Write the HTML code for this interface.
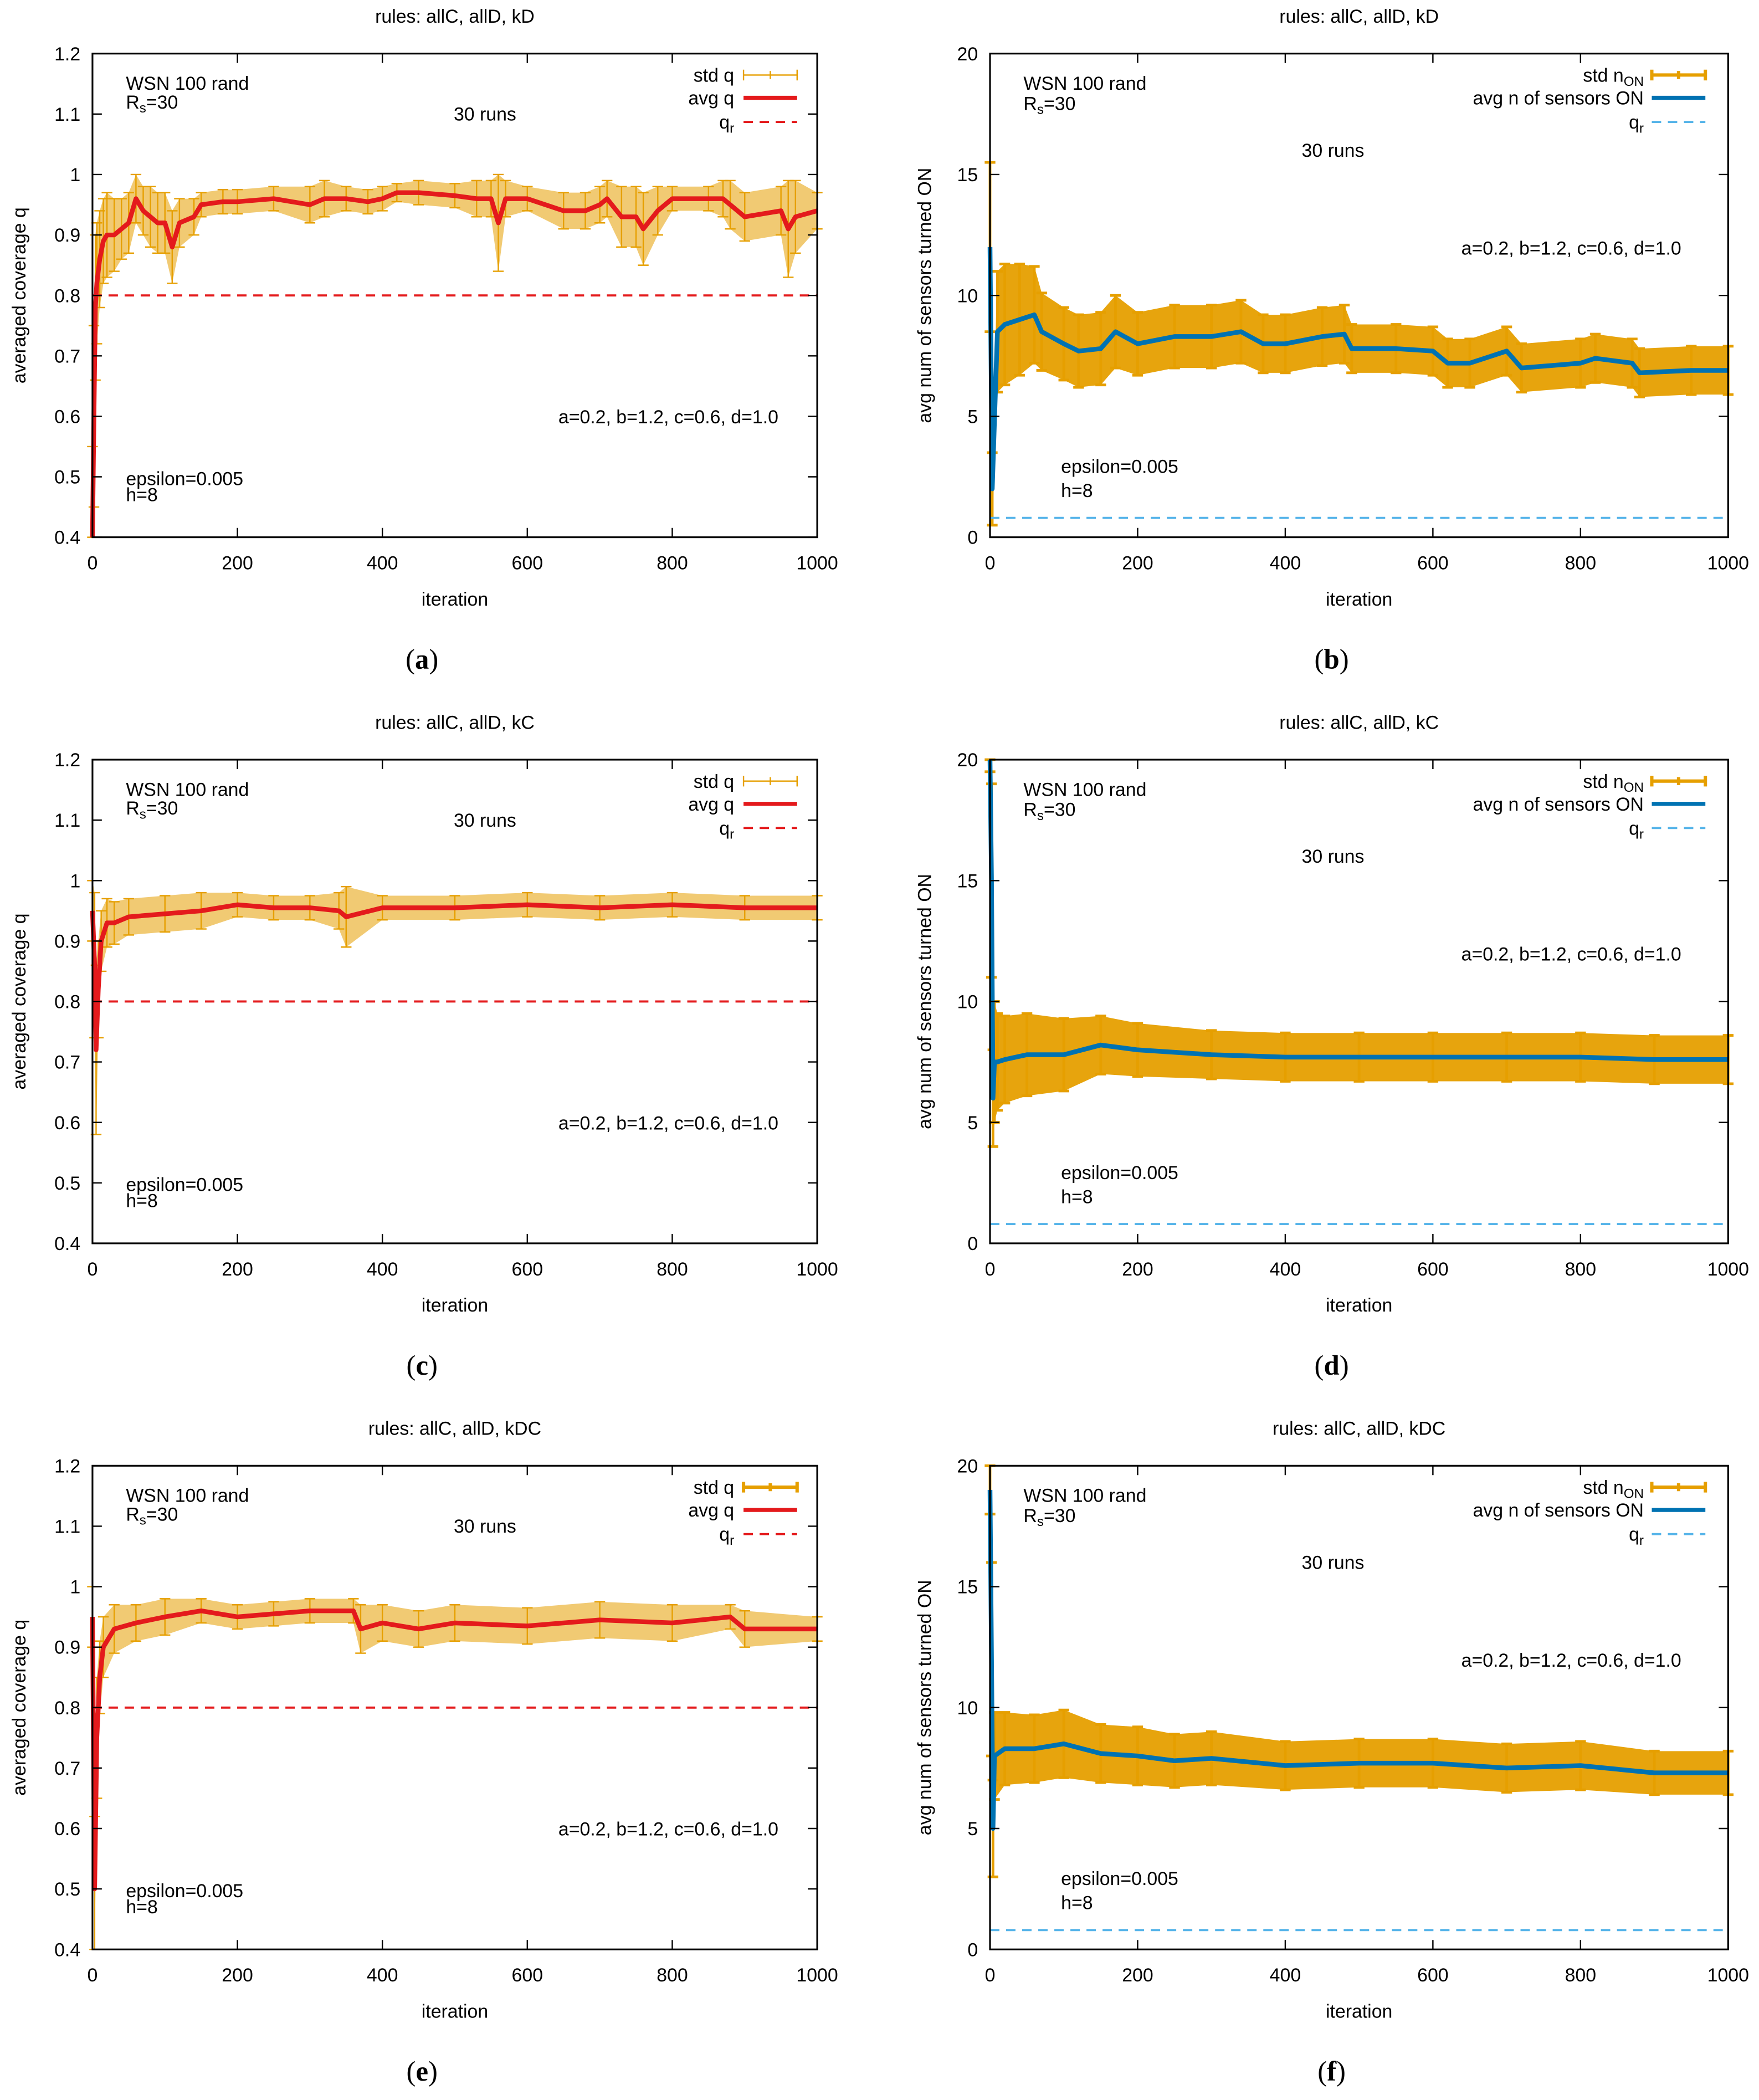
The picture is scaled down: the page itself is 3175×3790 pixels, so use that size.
<!DOCTYPE html>
<html><head><meta charset="utf-8"><title>WSN coverage charts</title>
<style>
html,body{margin:0;padding:0;background:#fff;}
svg{display:block;}
text{font-family:"Liberation Sans",sans-serif;fill:#000;}
.cap{font-family:"Liberation Serif",serif;}
</style></head>
<body>
<svg id="fig" xmlns="http://www.w3.org/2000/svg" width="3175" height="3790" viewBox="0 0 1313 1567.4"></svg>
<script>
// ---- data (a) rules allC, allD, kD : coverage ----
const xA = [0,2,4,6,10,15,20,30,40,50,60,70,80,90,100,110,120,140,150,180,200,250,300,320,350,380,400,420,450,500,530,550,560,570,600,650,680,700,710,730,750,760,780,800,850,870,880,900,950,960,970,1000];
const meanA = [0.40,0.60,0.78,0.82,0.86,0.89,0.90,0.90,0.91,0.92,0.96,0.94,0.93,0.92,0.92,0.88,0.92,0.93,0.95,0.955,0.955,0.96,0.95,0.96,0.96,0.955,0.96,0.97,0.97,0.965,0.96,0.96,0.92,0.96,0.96,0.94,0.94,0.95,0.96,0.93,0.93,0.91,0.94,0.96,0.96,0.96,0.95,0.93,0.94,0.91,0.93,0.94];
const stdA = [0.15,0.15,0.12,0.10,0.08,0.07,0.07,0.06,0.05,0.05,0.04,0.04,0.05,0.05,0.05,0.06,0.04,0.03,0.02,0.02,0.02,0.02,0.03,0.03,0.02,0.02,0.02,0.015,0.02,0.02,0.03,0.03,0.08,0.03,0.02,0.03,0.03,0.03,0.03,0.05,0.05,0.06,0.04,0.02,0.02,0.03,0.04,0.04,0.04,0.08,0.06,0.03];
// ---- data (b) : sensors ON ----
const xB = [0,3,10,20,40,60,70,100,120,150,170,200,250,300,340,370,400,450,480,490,550,600,620,650,700,720,800,820,870,880,950,1000];
const meanB = [12,2,8.5,8.8,9.0,9.2,8.5,8.0,7.7,7.8,8.5,8.0,8.3,8.3,8.5,8.0,8.0,8.3,8.4,7.8,7.8,7.7,7.2,7.2,7.7,7.0,7.2,7.4,7.2,6.8,6.9,6.9];
const stdB = [3.5,1.5,2.5,2.5,2.3,2.0,1.6,1.5,1.5,1.5,1.5,1.3,1.3,1.3,1.3,1.2,1.2,1.2,1.2,1.0,1.0,1.0,1.0,1.0,1.0,1.0,1.0,1.0,1.0,1.0,1.0,1.0];
// ---- data (c) rules allC, allD, kC : coverage ----
const xC = [0,3,5,8,12,20,30,50,100,150,200,250,300,340,350,400,500,600,700,800,900,1000];
const meanC = [0.95,0.86,0.72,0.82,0.90,0.93,0.93,0.94,0.945,0.95,0.96,0.955,0.955,0.95,0.94,0.955,0.955,0.96,0.955,0.96,0.955,0.955];
const stdC = [0.05,0.12,0.14,0.08,0.05,0.04,0.035,0.03,0.03,0.03,0.02,0.02,0.02,0.03,0.05,0.02,0.02,0.02,0.02,0.02,0.02,0.02];
// ---- data (d) : sensors ON ----
const xD = [0,2,4,6,10,20,50,100,150,200,300,400,500,600,700,800,900,1000];
const meanD = [20,15,6,7.5,7.5,7.6,7.8,7.8,8.2,8.0,7.8,7.7,7.7,7.7,7.7,7.7,7.6,7.6];
const stdD = [0.5,4,2,2.5,2.0,1.8,1.7,1.5,1.2,1.1,1.0,1.0,1.0,1.0,1.0,1.0,1.0,1.0];
// ---- data (e) rules allC, allD, kDC : coverage ----
const xE = [0,3,6,10,15,30,60,100,150,200,250,300,360,370,400,450,500,600,700,800,880,900,1000];
const meanE = [0.95,0.50,0.75,0.85,0.90,0.93,0.94,0.95,0.96,0.95,0.955,0.96,0.96,0.93,0.94,0.93,0.94,0.935,0.945,0.94,0.95,0.93,0.93];
const stdE = [0.05,0.12,0.10,0.06,0.05,0.04,0.03,0.03,0.02,0.02,0.02,0.02,0.02,0.04,0.03,0.03,0.03,0.03,0.03,0.03,0.02,0.03,0.02];
// ---- data (f) : sensors ON ----
const xF = [0,2,4,6,20,60,100,150,200,250,300,400,500,600,700,800,900,1000];
const meanF = [19,12,5,8,8.3,8.3,8.5,8.1,8.0,7.8,7.9,7.6,7.7,7.7,7.5,7.6,7.3,7.3];
const stdF = [1,4,2,1.8,1.5,1.4,1.4,1.2,1.2,1.1,1.1,1.0,1.0,1.0,1.0,1.0,0.9,0.9];

const xTicks = [0,200,400,600,800,1000];
const qTicks = [0.4,0.5,0.6,0.7,0.8,0.9,1,1.1,1.2];
const qTickLabels = ["0.4","0.5","0.6","0.7","0.8","0.9","1","1.1","1.2"];
const nTicks = [0,5,10,15,20];
const qRef = 0.8;
const nRef = 0.8;

const NS = "http://www.w3.org/2000/svg";
const fig = document.getElementById('fig');
function mk(tag, attrs, parent){
  const e = document.createElementNS(NS, tag);
  for (const k in attrs) e.setAttribute(k, attrs[k]);
  (parent||fig).appendChild(e);
  return e;
}
function txt(s, x, y, size, anchor, parent){
  const t = mk('text', {x:x, y:y, 'font-size':size, 'text-anchor':anchor||'start'}, parent);
  t.textContent = s;
  return t;
}

function panel(o){
  const g = mk('g', {});
  
  
  const L=o.L, R=o.R, T=o.T, B=o.B;
  const sx = v => L + (v-0)/(1000-0)*(R-L);
  const sy = v => B - (v-o.ymin)/(o.ymax-o.ymin)*(B-T);
  // title
  const tt = txt(o.title, (L+R)/2, T-23, 14, 'middle', g);
  
  
  // std band
  const isQ = o.kind==='q';
  const orange = '#E69F00';
  let up='', dn='';
  for (let i=0;i<o.xs.length;i++){ up += sx(o.xs[i])+','+sy(Math.min(o.ymax,o.m[i]+o.s[i]))+' '; }
  for (let i=o.xs.length-1;i>=0;i--){ dn += sx(o.xs[i])+','+sy(Math.max(o.ymin,o.m[i]-o.s[i]))+' '; }
  const band = mk('polygon', {points:up+dn, fill:orange, 'fill-opacity': isQ?0.55:0.95, stroke:'none'}, g);
  
  
  // error bars
  for (let i=0;i<o.xs.length;i++){
    const x=sx(o.xs[i]);
    const y1=sy(Math.min(o.ymax,o.m[i]+o.s[i])), y2=sy(Math.max(o.ymin,o.m[i]-o.s[i]));
    const eb = mk('path', {d:`M${x},${y1}V${y2}M${x-4},${y1}H${x+4}M${x-4},${y2}H${x+4}`, stroke:orange, 'stroke-width': isQ?1:2, fill:'none'}, g);
    
    
  }
  // reference line
  const ry = sy(o.ref);
  const rl = mk('line', {x1:L, x2:R, y1:ry, y2:ry, stroke: isQ?'#E41A1C':'#56B4E9', 'stroke-width':1.6, 'stroke-dasharray':'7,5'}, g);
  
  
  // mean line
  let pts='';
  for (let i=0;i<o.xs.length;i++) pts += sx(o.xs[i])+','+sy(o.m[i])+' ';
  const ml = mk('polyline', {points:pts, fill:'none', stroke: isQ?'#E41A1C':'#0072B2', 'stroke-width':3.5, 'stroke-linejoin':'round'}, g);
  
  
  // frame
  const fr = mk('rect', {x:L, y:T, width:R-L, height:B-T, fill:'none', stroke:'#000', 'stroke-width':1.3}, g);
  
  
  // x ticks
  xTicks.forEach(v=>{
    const x=sx(v);
    mk('path', {d:`M${x},${B}v-7M${x},${T}v7`, stroke:'#000', 'stroke-width':1}, g);
    const l = txt(String(v), x, B+24, 14, 'middle', g);
    
    
  });
  o.yt.forEach((v,i)=>{
    const y=sy(v);
    mk('path', {d:`M${L},${y}h7M${R},${y}h-7`, stroke:'#000', 'stroke-width':1}, g);
    const l = txt(o.ytl[i], L-9, y+5, 14, 'end', g);
    
    
  });
  const xl = txt('iteration', (L+R)/2, B+51, 14, 'middle', g);
  
  
  const yl = txt(o.ylabel, 0, 0, 14, 'middle', g);
  yl.setAttribute('transform', `translate(${o.ylx},${(T+B)/2}) rotate(-90)`);
  
  
  // annotations
  const a1 = txt('WSN 100 rand', L+25, T+27, 14, 'start', g);
  
  
  const a2 = mk('text', {x:L+25, y:T+(isQ?41:42), 'font-size':14}, g);
  a2.innerHTML = 'R<tspan font-size="10" dy="3">s</tspan><tspan dy="-3">=30</tspan>';
  
  
  const a3 = txt('30 runs', isQ? L+293 : L+256, isQ? T+50 : T+77, 14, 'middle', g);
  
  
  const a4 = txt('a=0.2, b=1.2, c=0.6, d=1.0', isQ? L+512 : L+516, isQ? T+276 : T+150, 14, 'end', g);
  
  
  const a5 = txt('epsilon=0.005', isQ? L+25 : L+53, isQ? T+322 : T+313, 14, 'start', g);
  
  
  const a6 = txt('h=8', isQ? L+25 : L+53, isQ? T+334 : T+331, 14, 'start', g);
  
  
  // legend
  const lx = isQ? R-62 : R-63, ll = isQ? R-55 : R-57, lr = isQ? R-15 : R-17;
  const ys=[T+21,T+38,T+56];
  const lg = mk('g', {}, g);
  
  
  const t1 = mk('text', {x:lx, y:ys[0], 'font-size':14, 'text-anchor':'end'}, lg);
  t1.innerHTML = isQ? 'std q' : 'std n<tspan font-size="10" dy="3">ON</tspan>';
  
  
  mk('path', {d:`M${ll},${ys[0]-5}H${lr}M${ll},${ys[0]-9}v8M${lr},${ys[0]-9}v8M${(ll+lr)/2},${ys[0]-8}v6`, stroke:orange, 'stroke-width': o.thinLegend?1:2.5}, lg);
  const t2 = txt(isQ?'avg q':'avg n of sensors ON', lx, ys[1], 14, 'end', lg);
  
  
  mk('line', {x1:ll, x2:lr, y1:ys[1]-5, y2:ys[1]-5, stroke:isQ?'#E41A1C':'#0072B2', 'stroke-width':3}, lg);
  const t3 = mk('text', {x:lx, y:ys[2], 'font-size':14, 'text-anchor':'end'}, lg);
  t3.innerHTML = 'q<tspan font-size="10" dy="3">r</tspan>';
  
  
  mk('line', {x1:ll, x2:lr, y1:ys[2]-5, y2:ys[2]-5, stroke:isQ?'#E41A1C':'#56B4E9', 'stroke-width':1.6, 'stroke-dasharray':'7,5'}, lg);
  // caption
  const cp = mk('text', {x:o.capx, y:B+98, 'font-size':21, 'text-anchor':'middle', class:'cap'}, g);
  cp.innerHTML = '(<tspan font-weight="bold">'+o.cap+'</tspan>)';
  
  
}

const rows=[0,527,1054];
const titles=['rules: allC, allD, kD','rules: allC, allD, kC','rules: allC, allD, kDC'];
const qData=[[xA,meanA,stdA],[xC,meanC,stdC],[xE,meanE,stdE]];
const nData=[[xB,meanB,stdB],[xD,meanD,stdD],[xF,meanF,stdF]];
const caps=[['a','b'],['c','d'],['e','f']];
for (let r=0;r<3;r++){
  panel({name:'coverage-chart-'+caps[r][0], kind:'q', L:69, R:610, T:40+rows[r], B:401+rows[r], ymin:0.4, ymax:1.2,
    xs:qData[r][0], m:qData[r][1], s:qData[r][2], ref:qRef, yt:qTicks, ytl:qTickLabels,
    ylabel:'averaged coverage q', ylx:19, title:titles[r], cap:caps[r][0], capx:315, thinLegend:r<2});
  panel({name:'sensors-chart-'+caps[r][1], kind:'n', L:739, R:1290, T:40+rows[r], B:401+rows[r], ymin:0, ymax:20,
    xs:nData[r][0], m:nData[r][1], s:nData[r][2], ref:nRef, yt:nTicks, ytl:nTicks.map(String),
    ylabel:'avg num of sensors turned ON', ylx:695, title:titles[r], cap:caps[r][1], capx:994, thinLegend:false});
}
</script>
</body></html>
